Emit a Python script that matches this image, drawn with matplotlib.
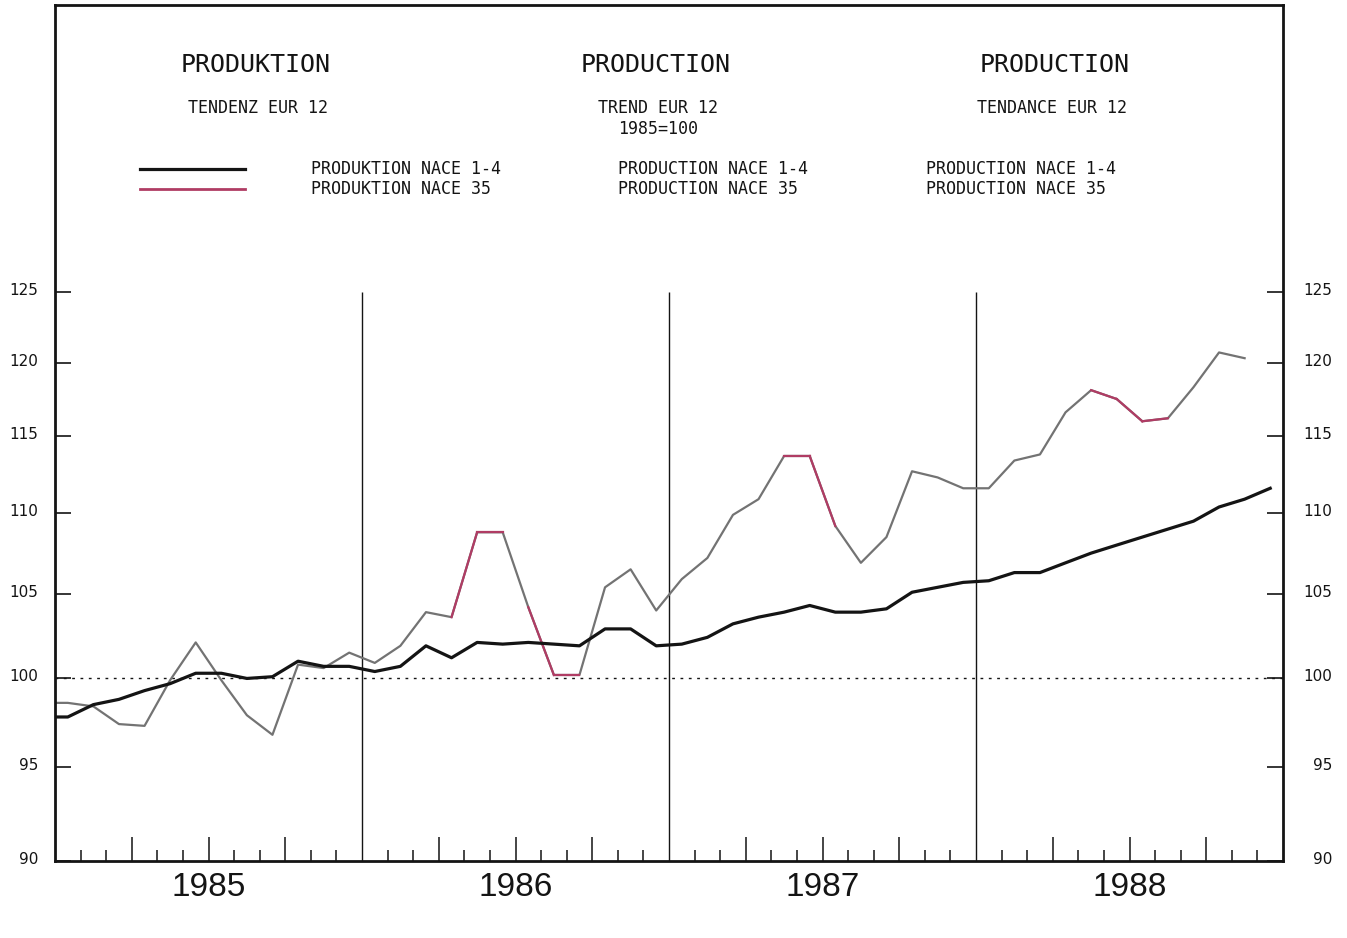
import numpy as np
import matplotlib
matplotlib.use("Agg")
import matplotlib.pyplot as plt
from matplotlib.lines import Line2D
from matplotlib.transforms import ScaledTranslation
from matplotlib.ticker import FixedLocator, NullLocator, NullFormatter

# --- DATI (mensili, dic 1984 - dic 1988, 1985=100) ---
FIRST_YEAR = 1985
YEARS = [1985, 1986, 1987, 1988]
nace_1_4 = [97.8,
            97.8, 98.5, 98.8, 99.3, 99.7, 100.3, 100.3, 100.0, 100.1, 101.0, 100.7, 100.7,
            100.4, 100.7, 101.9, 101.2, 102.1, 102.0, 102.1, 102.0, 101.9, 102.9, 102.9, 101.9,
            102.0, 102.4, 103.2, 103.6, 103.9, 104.3, 103.9, 103.9, 104.1, 105.1, 105.4, 105.7,
            105.8, 106.3, 106.3, 106.9, 107.5, 108.0, 108.5, 109.0, 109.5, 110.4, 110.9, 111.6]
nace_35 = [98.6,
           98.6, 98.4, 97.4, 97.3, 99.9, 102.1, 99.9, 97.9, 96.8, 100.8, 100.6, 101.5,
           100.9, 101.9, 103.9, 103.6, 108.8, 108.8, 104.2, 100.2, 100.2, 105.4, 106.5, 104.0,
           105.9, 107.2, 109.9, 110.9, 113.7, 113.7, 109.2, 106.9, 108.5, 112.7, 112.3, 111.6,
           111.6, 113.4, 113.8, 116.6, 118.1, 117.5, 116.0, 116.2, 118.3, 120.7, 120.3, np.nan]
# segmenti evidenziati in rosso (indice del mese di partenza, 0 = gen 1985)
RED_SEGMENTS = [15, 16, 18, 19, 28, 29, 40, 41, 42]
Y_TICKS = [90, 95, 100, 105, 110, 115, 120, 125]

TITLES = ["PRODUKTION", "PRODUCTION", "PRODUCTION"]
SUBTITLES = ["TENDENZ EUR 12", "TREND EUR 12", "TENDANCE EUR 12"]
BASE_NOTE = "1985=100"
LEGEND_1 = ["PRODUKTION NACE 1-4", "PRODUCTION NACE 1-4", "PRODUCTION NACE 1-4"]
LEGEND_35 = ["PRODUKTION NACE 35", "PRODUCTION NACE 35", "PRODUCTION NACE 35"]

BLACK = "#141414"
GREY = "#737373"
RED = "#b03c64"

W, H = 1347, 938
fig = plt.figure(figsize=(W / 100, H / 100), dpi=100)
fig.patch.set_facecolor("white")
ax = fig.add_axes([55 / W, 1 - 861 / H, (1283 - 55) / W, (861 - 5) / H])


def fx(px):
    return px / W


def fy(py):
    return 1 - py / H


# posizione x: centro del mese
months = FIRST_YEAR + (np.arange(-1, len(nace_1_4) - 1) + 0.5) / 12
n35 = np.array(nace_35)

ax.set_yscale("log")
ax.set_xlim(FIRST_YEAR, FIRST_YEAR + len(YEARS))
ax.set_ylim(90, 147.5)

ax.axhline(100, color=BLACK, lw=1.0, ls=(0, (2, 4)), zorder=1)
ax.vlines(YEARS[1:], 90, 125, color=BLACK, lw=1.0, zorder=1)

ax.plot(months, n35, color=GREY, lw=1.6, zorder=2)
for s in RED_SEGMENTS:
    ax.plot(months[s + 1:s + 3], n35[s + 1:s + 3], color=RED, lw=1.6, zorder=3)
ax.plot(months, nace_1_4, color=BLACK, lw=2.3, zorder=4)

# --- ASSI ---
for sp in ax.spines.values():
    sp.set_linewidth(2.0)
    sp.set_color(BLACK)

ax.yaxis.set_major_locator(FixedLocator(Y_TICKS))
ax.yaxis.set_minor_locator(NullLocator())
ax.yaxis.set_minor_formatter(NullFormatter())
ax.set_yticklabels([str(v) for v in Y_TICKS])
ax.tick_params(axis="y", which="major", direction="in", length=11.5, width=1.2,
               left=True, right=True, labelleft=True, labelright=True,
               labelsize=11, colors=BLACK, pad=12)
# etichette di destra allineate a destra
shift = ScaledTranslation(33 / 100, 3 / 100, fig.dpi_scale_trans)
for t in ax.yaxis.get_major_ticks():
    t.label2.set_horizontalalignment("right")
    t.label2.set_transform(t.label2.get_transform() + shift)
    t.label1.set_transform(t.label1.get_transform() + ScaledTranslation(0, 3 / 100, fig.dpi_scale_trans))

month_edges = FIRST_YEAR + np.arange(1, 12 * len(YEARS)) / 12
quarters = [m for i, m in enumerate(month_edges, 1) if i % 3 == 0 and i % 12 != 0]
others = [m for i, m in enumerate(month_edges, 1) if i % 3 != 0]
ax.xaxis.set_major_locator(FixedLocator(quarters))
ax.xaxis.set_minor_locator(FixedLocator(others))
ax.tick_params(axis="x", which="major", direction="in", length=17, width=1.1,
               labelbottom=False, color=BLACK)
ax.tick_params(axis="x", which="minor", direction="in", length=7.7, width=1.1,
               labelbottom=False, color=BLACK)

for yr in YEARS:
    ax.text(yr + 0.5, -26 / 856, str(yr), transform=ax.get_xaxis_transform(),
            ha="center", va="center", fontsize=24, family="Liberation Sans",
            color=BLACK)

# --- INTESTAZIONE ---
mono = "DejaVu Sans Mono"
title_x = [256, 656, 1055]
sub_x = [258, 658, 1052]
legend_x = [311, 618, 926]
for i in range(3):
    fig.text(fx(title_x[i]), fy(65), TITLES[i], ha="center", va="center",
             fontsize=18, family=mono, color=BLACK)
    fig.text(fx(sub_x[i]), fy(108), SUBTITLES[i], ha="center", va="center",
             fontsize=12, family=mono, color=BLACK)
    fig.text(fx(legend_x[i]), fy(169), LEGEND_1[i], ha="left", va="center",
             fontsize=12, family=mono, color=BLACK)
    fig.text(fx(legend_x[i]), fy(189), LEGEND_35[i], ha="left", va="center",
             fontsize=12, family=mono, color=BLACK)
fig.text(fx(658), fy(129), BASE_NOTE, ha="center", va="center",
         fontsize=12, family=mono, color=BLACK)

fig.add_artist(Line2D([fx(140), fx(245)], [fy(169), fy(169)], color=BLACK, lw=2.3))
fig.add_artist(Line2D([fx(140), fx(245)], [fy(189), fy(189)], color=RED, lw=2.0))

fig.savefig("out.png", dpi=100, facecolor="white")
